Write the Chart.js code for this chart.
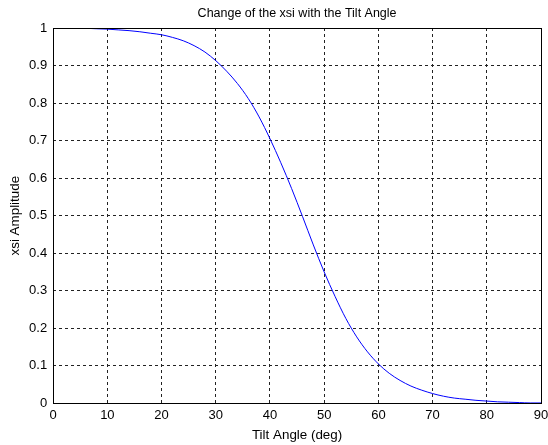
<!DOCTYPE html>
<html>
<head>
<meta charset="utf-8">
<script src="https://cdn.jsdelivr.net/npm/chart.js@4/dist/chart.umd.min.js"></script>
<style>
html,body{margin:0;padding:0;background:#fff;}
#wrap{width:548px;height:445px;position:relative;}
</style>
</head>
<body>
<div id="wrap"><canvas id="c" width="548" height="445"></canvas></div>
<script>
const tiltAngles = [0,2,4,6,8,10,12,14,16,18,20,22,24,26,28,30,32,34,36,38,40,42,44,46,48,50,52,54,56,58,60,62,64,66,68,70,72,74,76,78,80,82,84,86,88,90];
const xsiAmplitude = [1.000,1.000,0.999,0.999,0.998,0.997,0.995,0.993,0.990,0.986,0.982,0.975,0.966,0.953,0.936,0.913,0.885,0.852,0.812,0.763,0.705,0.641,0.572,0.498,0.422,0.350,0.285,0.226,0.177,0.137,0.105,0.080,0.061,0.046,0.035,0.026,0.019,0.014,0.011,0.008,0.006,0.004,0.003,0.002,0.001,0.001];
const xTicks = [0,10,20,30,40,50,60,70,80,90];
const yTicks = [0,0.1,0.2,0.3,0.4,0.5,0.6,0.7,0.8,0.9,1];

const FONT = "'Liberation Sans', Arial, sans-serif";

const frame = {
  id: 'frame',
  afterDraw(chart) {
    const {ctx, chartArea: a} = chart;
    ctx.save();
    ctx.strokeStyle = '#000';
    ctx.lineWidth = 1;
    ctx.strokeRect(Math.round(a.left) + 0.5, Math.round(a.top) + 0.5, Math.round(a.right - a.left), Math.round(a.bottom - a.top));
    ctx.restore();
  }
};

new Chart(document.getElementById('c'), {
  type: 'line',
  data: {
    datasets: [{
      data: tiltAngles.map((x, i) => ({x: x, y: xsiAmplitude[i]})),
      borderColor: '#0000ff',
      borderWidth: 1,
      pointRadius: 0,
      cubicInterpolationMode: 'monotone',
      fill: false
    }]
  },
  options: {
    responsive: false,
    animation: false,
    layout: {padding: {left: 7, right: 7, top: 0, bottom: 2}},
    plugins: {
      legend: {display: false},
      tooltip: {enabled: false},
      title: {
        display: true,
        fullSize: false,
        text: 'Change of the xsi with the Tilt Angle',
        color: '#000',
        font: {family: FONT, size: 12.5, weight: 'normal'},
        padding: {top: 6, bottom: 7}
      }
    },
    scales: {
      x: {
        type: 'linear',
        min: 0, max: 90,
        afterBuildTicks: (axis) => { axis.ticks = xTicks.map(v => ({value: v})); },
        afterFit: (axis) => { axis.paddingRight = 0; },
        ticks: {color: '#000', font: {family: FONT, size: 13}, padding: 4, maxRotation: 0,
                callback: v => String(v)},
        grid: {color: '#222', lineWidth: 1, tickLength: 0, drawTicks: false},
        border: {display: false, dash: [3, 3]},
        title: {display: true, text: 'Tilt Angle (deg)', color: '#000', font: {family: FONT, size: 13.4}, padding: {top: 0, bottom: 0}}
      },
      y: {
        type: 'linear',
        min: 0, max: 1,
        afterBuildTicks: (axis) => { axis.ticks = yTicks.map(v => ({value: v})); },
        ticks: {color: '#000', font: {family: FONT, size: 13}, padding: 6,
                callback: v => String(Math.round(v * 10) / 10)},
        grid: {color: '#222', lineWidth: 1, tickLength: 0, drawTicks: false},
        border: {display: false, dash: [3, 3]},
        title: {display: true, text: 'xsi Amplitude', color: '#000', font: {family: FONT, size: 13.4}, padding: {top: 0, bottom: 0}}
      }
    }
  },
  plugins: [frame]
});
</script>
</body>
</html>
